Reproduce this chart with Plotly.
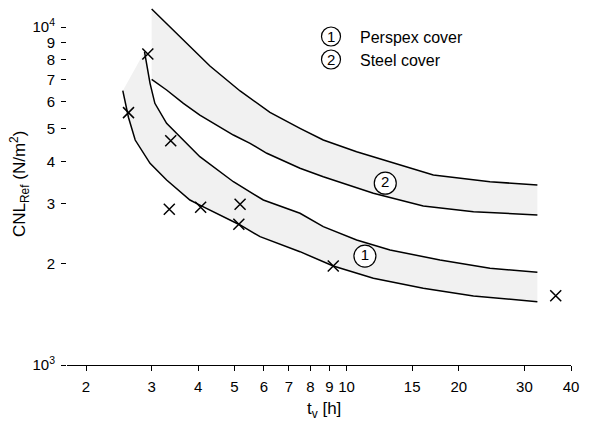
import numpy as np
import plotly.graph_objects as go

# ---------------- data ----------------
# Band 1: Perspex cover
perspex_upper_x = [2.87, 2.97, 3.06, 3.29, 4.04, 4.97, 5.98, 7.5, 8.66, 10.64, 13.08, 17.81, 24.25, 32.5]
perspex_upper_y = [8450, 6813, 5946, 5190, 4134, 3485, 3077, 2811, 2566, 2344, 2189, 2045, 1932, 1881]
perspex_lower_x = [2.51, 2.55, 2.6, 2.71, 2.97, 3.29, 3.80, 4.04, 5.18, 5.86, 7.5, 9.21, 11.8, 16.06, 21.9, 32.5]
perspex_lower_y = [6480, 5950, 5400, 4630, 3952, 3526, 3077, 2973, 2596, 2397, 2164, 1963, 1805, 1686, 1600, 1539]

# Band 2: Steel cover
steel_upper_x = [3.0, 3.65, 4.30, 5.18, 6.23, 7.5, 8.66, 10.64, 13.08, 17.09, 24.25, 32.5]
steel_upper_y = [11300, 9153, 7667, 6468, 5590, 5015, 4630, 4276, 3996, 3649, 3485, 3408]
steel_lower_x = [3.0, 3.29, 3.65, 4.04, 4.97, 5.51, 6.11, 7.5, 8.66, 11.8, 16.06, 21.9, 32.5]
steel_lower_y = [7003, 6511, 5946, 5490, 4791, 4528, 4230, 3819, 3607, 3221, 2953, 2842, 2779]

# Measured points
meas_x = [2.93, 2.60, 3.375, 3.345, 4.06, 5.18, 5.14, 9.21, 36.4]
meas_y = [8318, 5580, 4610, 2888, 2928, 2988, 2609, 1963, 1603]

# Band labels
label_x = [11.2, 12.7]
label_y = [2100, 3450]
label_text = ["1", "2"]

legend_labels = ["Perspex cover", "Steel cover"]

x_tickvals = [2, 3, 4, 5, 6, 7, 8, 9, 10, 15, 20, 30, 40]
y_tickvals = [1000, 2000, 3000, 4000, 5000, 6000, 7000, 8000, 9000, 10000]
y_ticktext = ["10<sup>3</sup>", "2", "3", "4", "5", "6", "7", "8", "9", "10<sup>4</sup>"]

# ---------------- style ----------------
FONT = "Liberation Sans, Arial, Helvetica, sans-serif"
FILL = "rgb(241,241,241)"
OFF = 8  # page body margin
W, H = 597 - OFF, 424 - OFF
ML, MR, MT, MB = 67 - OFF, 26, 0, 424 - 365
PW, PH = W - ML - MR, H - MT - MB
x_range = [0.25, np.log10(40)]
y_range = [3.0, 3.0 + (PH / 338.0)]

fig = go.Figure()

def band(ux, uy, lx, ly):
    return go.Scatter(x=list(ux) + list(lx)[::-1], y=list(uy) + list(ly)[::-1],
                      fill="toself", fillcolor=FILL, mode="lines",
                      line=dict(width=0, color=FILL), hoverinfo="skip", showlegend=False)

fig.add_trace(band(perspex_upper_x, perspex_upper_y, perspex_lower_x, perspex_lower_y))
fig.add_trace(band(steel_upper_x, steel_upper_y, steel_lower_x, steel_lower_y))

for xs, ys in [(perspex_upper_x, perspex_upper_y), (perspex_lower_x, perspex_lower_y),
               (steel_upper_x, steel_upper_y), (steel_lower_x, steel_lower_y)]:
    fig.add_trace(go.Scatter(x=xs, y=ys, mode="lines",
                             line=dict(color="black", width=1.5), showlegend=False))

fig.add_trace(go.Scatter(x=meas_x, y=meas_y, mode="markers",
                         marker=dict(symbol="x-thin", size=11, color="black",
                                     line=dict(color="black", width=1.5)),
                         showlegend=False))

fig.add_trace(go.Scatter(x=label_x, y=label_y, mode="markers+text", text=label_text,
                         textposition="middle center",
                         textfont=dict(family=FONT, size=15, color="black"),
                         marker=dict(symbol="circle", size=22, color="white",
                                     line=dict(color="black", width=1.2)),
                         showlegend=False))

shapes = []
# y axis line from 10^3 to 10^4
shapes.append(dict(type="line", xref="paper", yref="y", x0=0, x1=0, y0=3, y1=4,
                   line=dict(color="black", width=1)))

def px2paper_x(px):
    return (px - OFF - ML) / PW

def px2paper_y(py):
    return (H - MB - (py - OFF)) / PH

annotations = []
leg_rows = [36.5, 59.5]
for i, (txt, cy) in enumerate(zip(legend_labels, leg_rows)):
    cx = 331
    r = 9.5
    shapes.append(dict(type="circle", xref="paper", yref="paper",
                       x0=px2paper_x(cx - r), x1=px2paper_x(cx + r),
                       y0=px2paper_y(cy + r), y1=px2paper_y(cy - r),
                       line=dict(color="black", width=1.2)))
    annotations.append(dict(xref="paper", yref="paper", x=px2paper_x(cx), y=px2paper_y(cy),
                            text=str(i + 1), showarrow=False, xanchor="center", yanchor="middle",
                            font=dict(family=FONT, size=15, color="black")))
    annotations.append(dict(xref="paper", yref="paper", x=px2paper_x(358), y=px2paper_y(cy + 0.5),
                            text=txt, showarrow=False, xanchor="left", yanchor="middle",
                            font=dict(family=FONT, size=16, color="black")))

# axis titles
annotations.append(dict(xref="paper", yref="paper", x=px2paper_x(19), y=px2paper_y(184),
                        text="CNL<sub>Ref</sub> (N/m<sup>2</sup>)", textangle=-90,
                        showarrow=False, xanchor="center", yanchor="middle",
                        font=dict(family=FONT, size=17, color="black")))
annotations.append(dict(xref="paper", yref="paper", x=px2paper_x(324), y=px2paper_y(410),
                        text="t<sub>v</sub> [h]", showarrow=False,
                        xanchor="center", yanchor="middle",
                        font=dict(family=FONT, size=17, color="black")))

fig.update_layout(
    width=W, height=H,
    margin=dict(l=ML, r=MR, t=MT, b=MB, pad=0),
    paper_bgcolor="white", plot_bgcolor="white",
    shapes=shapes, annotations=annotations,
    showlegend=False,
    xaxis=dict(type="log", range=x_range, tickvals=x_tickvals,
               ticktext=[str(v) for v in x_tickvals],
               showgrid=False, zeroline=False, showline=True, linecolor="black", linewidth=1,
               ticks="outside", ticklen=5, tickwidth=1, tickcolor="black",
               ticklabelstandoff=3,
               tickfont=dict(family=FONT, size=15, color="black")),
    yaxis=dict(type="log", range=y_range, tickvals=y_tickvals, ticktext=y_ticktext,
               showgrid=False, zeroline=False, showline=False,
               ticks="outside", ticklen=5, tickwidth=1, tickcolor="black",
               ticklabelstandoff=3,
               tickfont=dict(family=FONT, size=15, color="black")),
)

fig.write_html("out.html")
